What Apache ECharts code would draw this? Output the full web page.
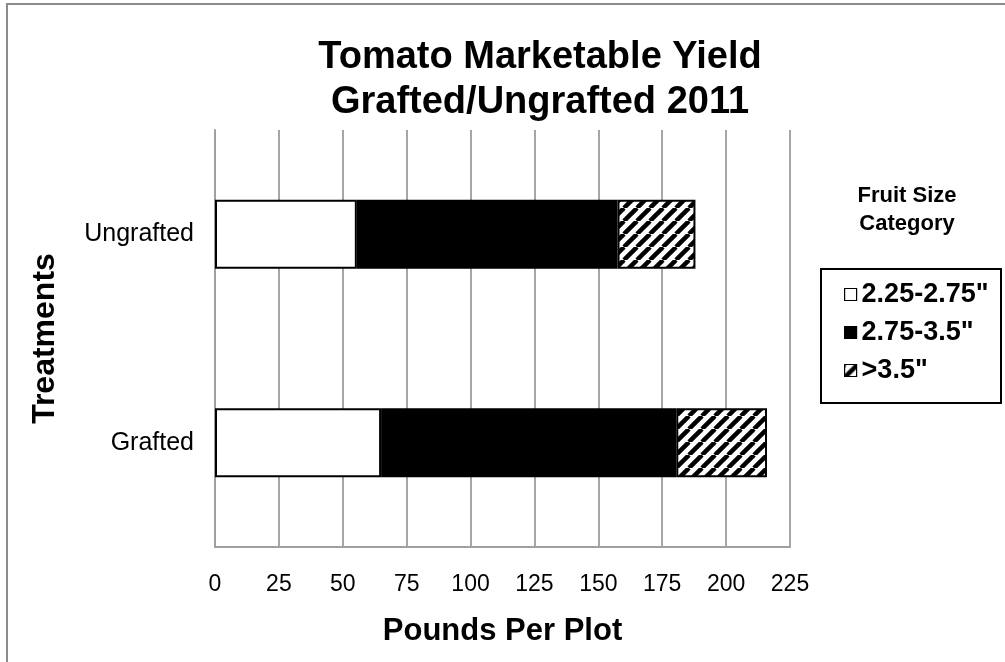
<!DOCTYPE html>
<html>
<head>
<meta charset="utf-8">
<script src="https://cdn.jsdelivr.net/npm/echarts@6/dist/echarts.min.js"></script>
<style>
html,body{margin:0;padding:0;background:#fff;}
#chart{width:1005px;height:662px;}
</style>
</head>
<body>
<div id="chart"></div>
<script>
// ---- data ----
const categories = ['Ungrafted', 'Grafted'];
const seriesNames = ['2.25-2.75"', '2.75-3.5"', '>3.5"'];
const size225to275 = [55.5, 65];
const size275to35 = [102, 115.5];
const sizeOver35 = [30.5, 35.5];
const xTicks = { min: 0, max: 225, interval: 25 };

const FONT = "'Liberation Sans', Arial, sans-serif";

// diagonal hatch pattern
function makeHatch() {
  const c = document.createElement('canvas');
  const s = 13;
  c.width = s; c.height = s;
  const g = c.getContext('2d');
  g.fillStyle = '#fff';
  g.fillRect(0, 0, s, s);
  g.strokeStyle = '#000';
  g.lineWidth = 4.5;
  for (const k of [-s, 0, s]) {
    g.beginPath();
    g.moveTo(k, s);
    g.lineTo(k + s, 0);
    g.stroke();
  }
  return c;
}
const hatch = { image: makeHatch(), repeat: 'repeat' };

const styles = [
  { color: '#ffffff', borderColor: '#000', borderWidth: 2 },
  { color: '#000000', borderColor: '#000', borderWidth: 2 },
  { color: hatch, borderColor: '#000', borderWidth: 2 }
];
const values = [size225to275, size275to35, sizeOver35];

const chart = echarts.init(document.getElementById('chart'), null, { renderer: 'canvas' });

const option = {
  backgroundColor: '#fff',
  animation: false,
  title: {
    text: 'Tomato Marketable Yield\nGrafted/Ungrafted 2011',
    left: 540,
    top: 35,
    padding: 0,
    textAlign: 'center',
    textStyle: { fontFamily: FONT, fontSize: 38, fontWeight: 'bold', color: '#000', lineHeight: 45 }
  },
  grid: { left: 215, right: 215, top: 130, bottom: 115, containLabel: false },
  xAxis: {
    type: 'value',
    min: xTicks.min, max: xTicks.max, interval: xTicks.interval,
    name: 'Pounds Per Plot',
    nameLocation: 'middle',
    nameGap: 69,
    nameTextStyle: { fontFamily: FONT, fontSize: 31, fontWeight: 'bold', color: '#000' },
    axisLine: { show: true, lineStyle: { color: '#a0a0a0', width: 2 } },
    axisTick: { show: false },
    axisLabel: { fontFamily: FONT, fontSize: 23, color: '#000', margin: 26 },
    splitLine: { show: true, lineStyle: { color: '#a6a6a6', width: 2 } }
  },
  yAxis: {
    type: 'category',
    data: categories,
    inverse: true,
    name: 'Treatments',
    nameLocation: 'middle',
    nameRotate: 90,
    nameGap: 154,
    nameTextStyle: { fontFamily: FONT, fontSize: 32, fontWeight: 'bold', color: '#000' },
    axisLine: { show: true, lineStyle: { color: '#a0a0a0', width: 2 } },
    axisTick: { show: false },
    axisLabel: { fontFamily: FONT, fontSize: 25, color: '#000', margin: 21 },
    splitLine: { show: false }
  },
  legend: {
    orient: 'vertical',
    left: 844,
    top: 281,
    padding: 0,
    itemWidth: 12,
    itemHeight: 12,
    itemGap: 11,
    icon: 'rect',
    textStyle: { fontFamily: FONT, fontSize: 27, fontWeight: 'bold', color: '#000', lineHeight: 26 },
    data: seriesNames.map((n, i) => ({
      name: n,
      itemStyle: { color: styles[i].color, borderColor: '#000', borderWidth: 1.2 }
    }))
  },
  graphic: [
    {
      type: 'rect',
      shape: { x: 7, y: 4, width: 1200, height: 900 },
      style: { fill: 'none', stroke: '#8c8c8c', lineWidth: 2 },
      silent: true
    },
    {
      type: 'rect',
      shape: { x: 821, y: 269, width: 180, height: 134 },
      style: { fill: 'none', stroke: '#000', lineWidth: 2 },
      silent: true
    },
    {
      type: 'text',
      x: 907,
      y: 182,
      style: {
        text: 'Fruit Size\nCategory',
        fontFamily: FONT, fontSize: 22, fontWeight: 'bold', fill: '#000',
        align: 'center', verticalAlign: 'top', lineHeight: 28
      },
      silent: true
    }
  ],
  series: seriesNames.map((n, i) => ({
    name: n,
    type: 'bar',
    stack: 'total',
    barWidth: 69,
    data: values[i],
    itemStyle: styles[i],
    emphasis: { disabled: true }
  }))
};
chart.setOption(option);
</script>
</body>
</html>
